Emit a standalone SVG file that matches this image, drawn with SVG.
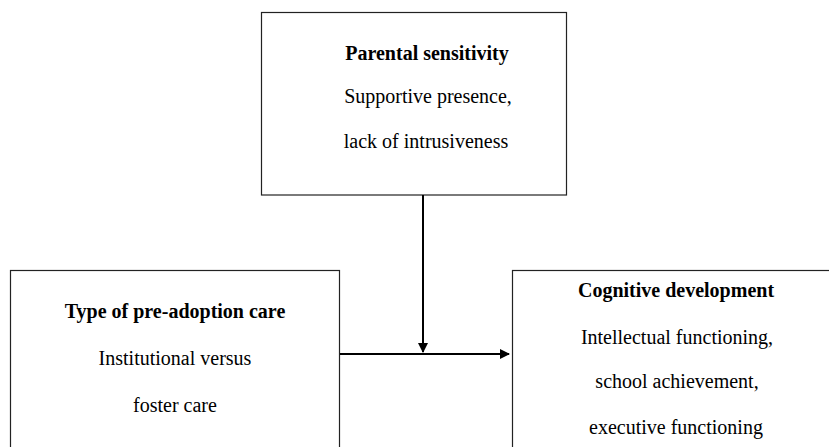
<svg xmlns="http://www.w3.org/2000/svg" width="829" height="447" viewBox="0 0 829 447">
<style>
.box{fill:#fff;stroke:#222;stroke-width:1.2}
.t{font-family:"Liberation Serif","Times New Roman",serif;font-size:20px;fill:#000;text-anchor:middle}
.b{font-weight:bold}
.c{stroke:#000;stroke-width:2;fill:none}
</style>
<defs>
<marker id="ah" markerWidth="10" markerHeight="10" refX="9" refY="5" orient="auto" markerUnits="userSpaceOnUse">
<path d="M0,0 L10,5 L0,10 Z" fill="#000"/>
</marker>
</defs>
<rect width="829" height="447" fill="#fff"/>
<g id="parental">
<rect class="box" x="261.5" y="12.5" width="305" height="182.5"/>
<text class="t b" x="427" y="60">Parental sensitivity</text>
<text class="t" x="428" y="103">Supportive presence,</text>
<text class="t" x="426" y="148">lack of intrusiveness</text>
</g>
<g id="care">
<rect class="box" x="10.5" y="270.5" width="329" height="190"/>
<text class="t b" x="175" y="318">Type of pre-adoption care</text>
<text class="t" x="175" y="365">Institutional versus</text>
<text class="t" x="175" y="412">foster care</text>
</g>
<g id="cognitive">
<rect class="box" x="512.5" y="270.5" width="330" height="190"/>
<text class="t b" x="676" y="297">Cognitive development</text>
<text class="t" x="677" y="344">Intellectual functioning,</text>
<text class="t" x="677" y="388">school achievement,</text>
<text class="t" x="676" y="434">executive functioning</text>
</g>
<g id="connectors">
<line class="c" x1="340" y1="354" x2="509" y2="354" marker-end="url(#ah)"/>
<line class="c" x1="423" y1="195" x2="423" y2="352" marker-end="url(#ah)"/>
</g>
</svg>
